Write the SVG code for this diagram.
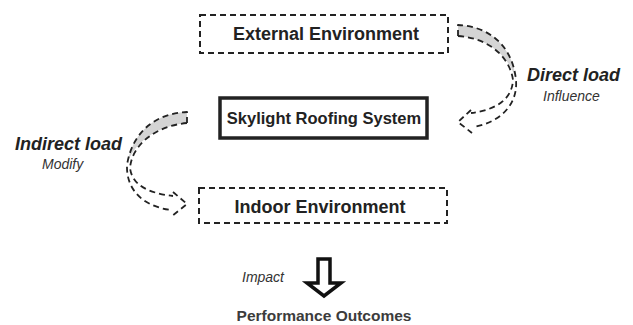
<svg xmlns="http://www.w3.org/2000/svg" width="633" height="325" viewBox="0 0 633 325">
<style>
.box{fill:#fff;stroke:#222;stroke-width:2;stroke-dasharray:6,4}
.solid{fill:#fff;stroke:#222;stroke-width:3.5}
.t{font-family:"Liberation Sans",Arial,sans-serif;font-weight:bold;fill:#222;text-anchor:middle}
.bi{font-family:"Liberation Sans",Arial,sans-serif;font-weight:bold;font-style:italic;fill:#222}
.it{font-family:"Liberation Sans",Arial,sans-serif;font-style:italic;fill:#333;font-size:14px}
.band{fill:#d4d4d4;stroke:none}
.dl{fill:none;stroke:#222;stroke-width:1.8;stroke-dasharray:6,4;stroke-linejoin:round}
</style>
<rect width="633" height="325" fill="#fff"/>
<g id="external">
<rect class="box" x="200" y="15" width="248" height="38"/>
<text class="t" x="326" y="40" font-size="18">External Environment</text>
</g>
<g id="skylight">
<rect class="solid" x="220" y="98" width="207" height="40"/>
<text class="t" x="324" y="124" font-size="16.5">Skylight Roofing System</text>
</g>
<g id="indoor">
<rect class="box" x="199" y="188" width="248" height="35"/>
<text class="t" x="320" y="213" font-size="18">Indoor Environment</text>
</g>
<g id="outcomes">
<text class="t" x="324" y="321" font-size="15.5" style="fill:#3c3c3c">Performance Outcomes</text>
</g>
<g id="connectors">
<g id="direct-load">
<path class="band" d="M458,25 C485,26 512,42 516,80 C510,58 490,38 458,36 Z"/>
<path class="dl" d="M458,36 L458,25 C485,26 512,42 516,80 C518,105 500,122 474,127"/>
<path class="dl" d="M458,36 C490,38 510,58 513,80 C512,100 495,110 471,113"/>
<path class="dl" d="M471,110 L458,122 L472,133"/>
<text class="bi" x="527" y="81" font-size="18">Direct load</text>
<text class="it" x="543" y="101">Influence</text>
</g>
<g id="indirect-load">
<path class="band" d="M187,112 C160,113 133,128 127,165 C132,145 155,126 187,123 Z"/>
<path class="dl" d="M187,123 L187,112 C160,113 133,128 127,165 C126,195 150,208 172,210"/>
<path class="dl" d="M187,123 C155,126 132,145 130,168 C132,185 148,193 173,196"/>
<path class="dl" d="M173,192 L187,204 L172,216"/>
<text class="bi" x="15" y="150" font-size="18">Indirect load</text>
<text class="it" x="42" y="169">Modify</text>
</g>
<g id="impact">
<path d="M318,259 L330,259 L330,283 L341,283 L324,296 L307,283 L318,283 Z" fill="#fff" stroke="#111" stroke-width="3.5" stroke-linejoin="miter"/>
<text class="it" x="242" y="282">Impact</text>
</g>
</g>
</svg>
